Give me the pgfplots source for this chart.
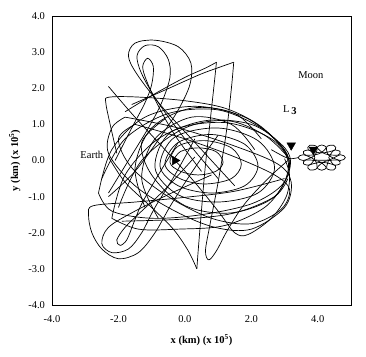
\documentclass[border=0pt]{standalone}
\usepackage{fontspec}
\setmainfont{Liberation Serif}
\usepackage{pgfplots}
\pgfplotsset{compat=1.18}
\begin{document}
\begin{tikzpicture}
\begin{axis}[
  scale only axis, width=299pt, height=289pt,
  xmin=-4, xmax=5, ymin=-4, ymax=4,
  xtick={-4,-2,0,2,4}, xticklabels={-4.0,-2.0,0.0,2.0,4.0},
  ytick={-4,-3,-2,-1,0,1,2,3,4}, yticklabels={-4.0,-3.0,-2.0,-1.0,0.0,1.0,2.0,3.0,4.0},
  major tick length=0pt,
  axis line style={black, line width=0.8pt},
  tick label style={font=\fontsize{10.5}{12}\selectfont},
  xticklabel style={yshift=-7pt},
  yticklabel style={xshift=-3.5pt},
  xlabel={\textbf{x (km) (x 10$^{\mathbf{5}}$)}},
  ylabel={\textbf{y (km) (x 10$^{\mathbf{5}}$)}},
  label style={font=\fontsize{10.5}{12}\selectfont},
  xlabel style={at={(axis description cs:0.5,-0.121)}, anchor=center},
  ylabel style={at={(axis description cs:-0.124,0.5)}, anchor=center},
  traj/.style={black, line width=0.7pt, smooth, tension=0.55, mark=none},
  clip=true,
]
% spiral around Earth
\addplot[traj] coordinates {(-0.35,0.0) (-0.13,0.25) (0.4,0.35) (0.93,0.25) (1.15,-0.05) (0.93,-0.3) (0.4,-0.4) (-0.13,-0.3)
 (-0.45,-0.05) (-0.2,0.4) (0.6,0.55) (1.4,0.35) (1.7,-0.1) (1.4,-0.5) (0.6,-0.65) (-0.15,-0.5)
 (-0.6,-0.1) (-0.2,0.5) (0.8,0.72) (1.8,0.45) (2.2,-0.15) (1.8,-0.7) (0.8,-0.9) (-0.2,-0.7)
 (-0.75,-0.15) (-0.3,0.65) (1.0,0.9) (2.2,0.55) (2.7,-0.2) (2.2,-0.9) (1.0,-1.15) (-0.2,-0.95)
 (-0.9,-0.2) (-0.4,0.8) (1.2,1.05) (2.6,0.6) (3.12,-0.1) (2.7,-1.0) (1.4,-1.45) (0.0,-1.25) (-1.0,-0.4) (-1.3,0.5) (-0.6,1.15)};
% tilted lobes
\addplot[traj] coordinates {(-1.5,1.0) (0.0,0.6) (1.5,0.1) (2.7,-0.4) (3.15,-0.8) (2.9,-1.35) (2.0,-1.75) (0.8,-1.6) (-0.5,-1.0) (-1.6,-0.2) (-2.0,0.6) (-1.5,1.0)};
\addplot[traj] coordinates {(-1.8,1.2) (-0.2,0.9) (1.5,0.4) (2.8,-0.1) (3.2,-0.6) (3.0,-1.3) (2.0,-1.9) (0.9,-1.85) (-0.3,-1.4) (-1.5,-0.7) (-2.3,0.2) (-2.2,0.9) (-1.8,1.2)};
\addplot[traj] coordinates {(-2.6,-0.9) (-2.2,0.3) (-1.2,1.2) (0.3,1.5) (1.8,1.2) (2.8,0.5) (3.15,-0.1) (2.9,-0.7) (2.0,-1.2) (0.5,-1.5) (-1.0,-1.6) (-2.2,-1.4) (-2.6,-0.9)};
\addplot[traj] coordinates {(-2.2,-1.6) (-1.8,-0.4) (-0.8,0.6) (0.6,1.1) (2.0,1.0) (2.9,0.45) (3.18,0.0) (3.0,-0.6) (2.4,-1.3) (1.2,-1.8) (-0.2,-1.9) (-1.4,-1.9) (-2.2,-1.6)};
\addplot[traj] coordinates {(-2.5,-0.5) (-1.8,0.6) (-0.5,1.3) (1.0,1.4) (2.3,0.9) (3.0,0.3) (3.15,-0.1)};
\addplot[traj] coordinates {(-2.0,-1.3) (-1.3,0.0) (0.0,0.9) (1.3,1.1) (2.4,0.7) (3.1,0.1)};
\addplot[traj] coordinates {(-1.2,-1.3) (-1.5,-0.2) (-1.0,0.9) (0.2,1.45) (1.5,1.3) (2.3,0.6)};
\addplot[traj] coordinates {(-0.8,-1.6) (-1.3,-0.5) (-0.9,0.6) (0.2,1.2) (1.4,1.0) (2.1,0.3)};
% upper loops
\addplot[traj] coordinates {(0.5,-0.3) (-0.3,0.7) (-0.85,1.6) (-1.15,2.2) (-1.27,2.6) (-1.12,2.83) (-0.95,2.6) (-1.0,2.1) (-1.2,1.6) (-1.6,0.9) (-2.1,0.0)};
\addplot[traj] coordinates {(1.0,-0.5) (0.0,0.6) (-0.8,1.6) (-1.3,2.4) (-1.44,2.9) (-1.2,3.18) (-0.8,3.15) (-0.5,2.8) (-0.45,2.3) (-0.7,1.6) (-1.1,0.9) (-1.7,0.0) (-2.3,-0.9)};
\addplot[traj] coordinates {(1.5,-0.7) (0.4,0.4) (-0.7,1.5) (-1.45,2.4) (-1.7,2.9) (-1.5,3.25) (-0.9,3.33) (-0.2,3.15) (0.18,2.7) (0.15,2.1) (-0.2,1.4) (-0.7,0.7) (-1.5,-0.3) (-2.3,-1.0)};
% lower-left loops
\addplot[traj] coordinates {(0.3,0.1) (-0.6,-0.8) (-1.3,-1.4) (-1.8,-1.85) (-2.05,-2.2) (-1.95,-2.35) (-1.75,-2.2) (-1.55,-1.75) (-1.3,-1.2) (-0.8,-0.4) (-0.2,0.5)};
\addplot[traj] coordinates {(0.8,-0.4) (-0.4,-0.9) (-1.5,-1.4) (-2.3,-1.85) (-2.5,-2.3) (-2.2,-2.55) (-1.7,-2.45) (-1.3,-2.0) (-0.9,-1.3) (-0.3,-0.4) (0.3,0.6)};
\addplot[traj] coordinates {(3.0,-0.5) (1.5,-0.85) (0.0,-1.02) (-1.5,-1.15) (-2.75,-1.25) (-2.9,-1.5) (-2.8,-2.0) (-2.5,-2.45) (-2.0,-2.72) (-1.4,-2.55) (-0.9,-2.0) (-0.4,-1.2) (0.3,-0.2) (1.0,0.7)};
\addplot[traj] coordinates {(-1.9,-1.68) (0.0,-1.62) (1.5,-1.45) (2.7,-1.0) (3.1,-0.5)};
% spikes
\addplot[traj] coordinates {(-1.8,1.35) (-0.9,1.85) (0.0,2.3) (0.6,2.55) (0.95,2.72)};
\addplot[traj] coordinates {(0.95,2.72) (0.88,2.1) (0.75,1.0) (0.6,-0.3) (0.48,-1.6) (0.4,-2.5) (0.36,-3.0)};
\addplot[traj] coordinates {(0.36,-3.0) (0.1,-2.5) (-0.35,-1.9) (-1.0,-1.3) (-1.8,-0.6) (-2.3,0.1)};
\addplot[traj] coordinates {(-1.6,1.55) (-0.6,1.95) (0.45,2.38) (1.1,2.6) (1.47,2.72)};
\addplot[traj] coordinates {(1.47,2.72) (1.40,2.0) (1.25,0.8) (1.0,-0.6) (0.75,-1.8) (0.62,-2.5) (0.72,-2.75) (0.95,-2.5) (1.3,-1.9) (1.8,-1.2) (2.5,-0.5) (3.1,0.0)};
% straight-ish lines
\addplot[traj] coordinates {(-2.3,2.05) (-1.6,1.3) (-0.8,0.5) (0.2,-0.5) (1.0,-1.4) (1.5,-2.0) (1.9,-2.05) (2.6,-1.6) (3.05,-1.0) (3.15,-0.4) (3.0,0.05)};
\addplot[traj] coordinates {(-2.05,0.2) (-2.25,1.0) (-2.38,1.6) (-2.3,1.75) (-1.5,1.76) (-0.05,1.66) (1.2,1.45) (2.2,1.0) (2.9,0.4) (3.15,0.0)};
% approach to Moon and loops
\addplot[traj] coordinates {(2.6,0.3) (3.0,0.1) (3.2,0.05) (3.41,0.08)};
\addplot[traj] coordinates {(3.91,0.015) (4.33,0.015) (4.68,0.16) (4.83,0.08) (4.68,0.0) (4.33,0.145) (4.27,0.38) (4.48,0.42) (4.53,0.30) (4.12,0.21) (3.71,0.30) (3.76,0.42) (3.97,0.38) (3.91,0.145) (3.56,0.0) (3.41,0.08) (3.56,0.16) (3.91,0.015) (3.97,-0.22) (3.76,-0.26) (3.71,-0.14) (4.12,-0.05) (4.53,-0.14) (4.48,-0.26) (4.27,-0.22) (4.33,0.015)};
\addplot[traj] coordinates {(4.33,0.08) (4.48,0.28) (4.67,0.25) (4.61,0.15) (4.23,0.18) (3.99,0.35) (4.12,0.43) (4.25,0.35) (4.02,0.18) (3.63,0.15) (3.57,0.25) (3.76,0.28) (3.91,0.08) (3.76,-0.12) (3.57,-0.09) (3.63,0.01) (4.02,-0.02) (4.25,-0.19) (4.12,-0.27) (3.99,-0.19) (4.23,-0.02) (4.61,0.01) (4.67,-0.09) (4.48,-0.12) (4.33,0.08)};
% markers
\addplot[only marks, mark=triangle*, mark size=5pt, black, mark options={rotate=180}] coordinates {(3.2,0.42) (3.87,0.30)};
\addplot[only marks, mark=triangle*, mark size=5pt, black, mark options={rotate=-90}] coordinates {(-0.3,0.0)};
% labels
\node[font=\fontsize{10.5}{12}\selectfont] at (axis cs:-2.8,0.15) {Earth};
\node[font=\fontsize{10.5}{12}\selectfont] at (axis cs:3.79,2.35) {Moon};
\node[font=\fontsize{10.5}{12}\selectfont] at (axis cs:3.16,1.39) {L\,\raisebox{-2pt}{\bfseries 3}};
\end{axis}
\pgfresetboundingbox
\path ([shift={(-52pt,-52pt)}]current axis.south west) rectangle ([shift={(15pt,16pt)}]current axis.north east);
\end{tikzpicture}
\end{document}
